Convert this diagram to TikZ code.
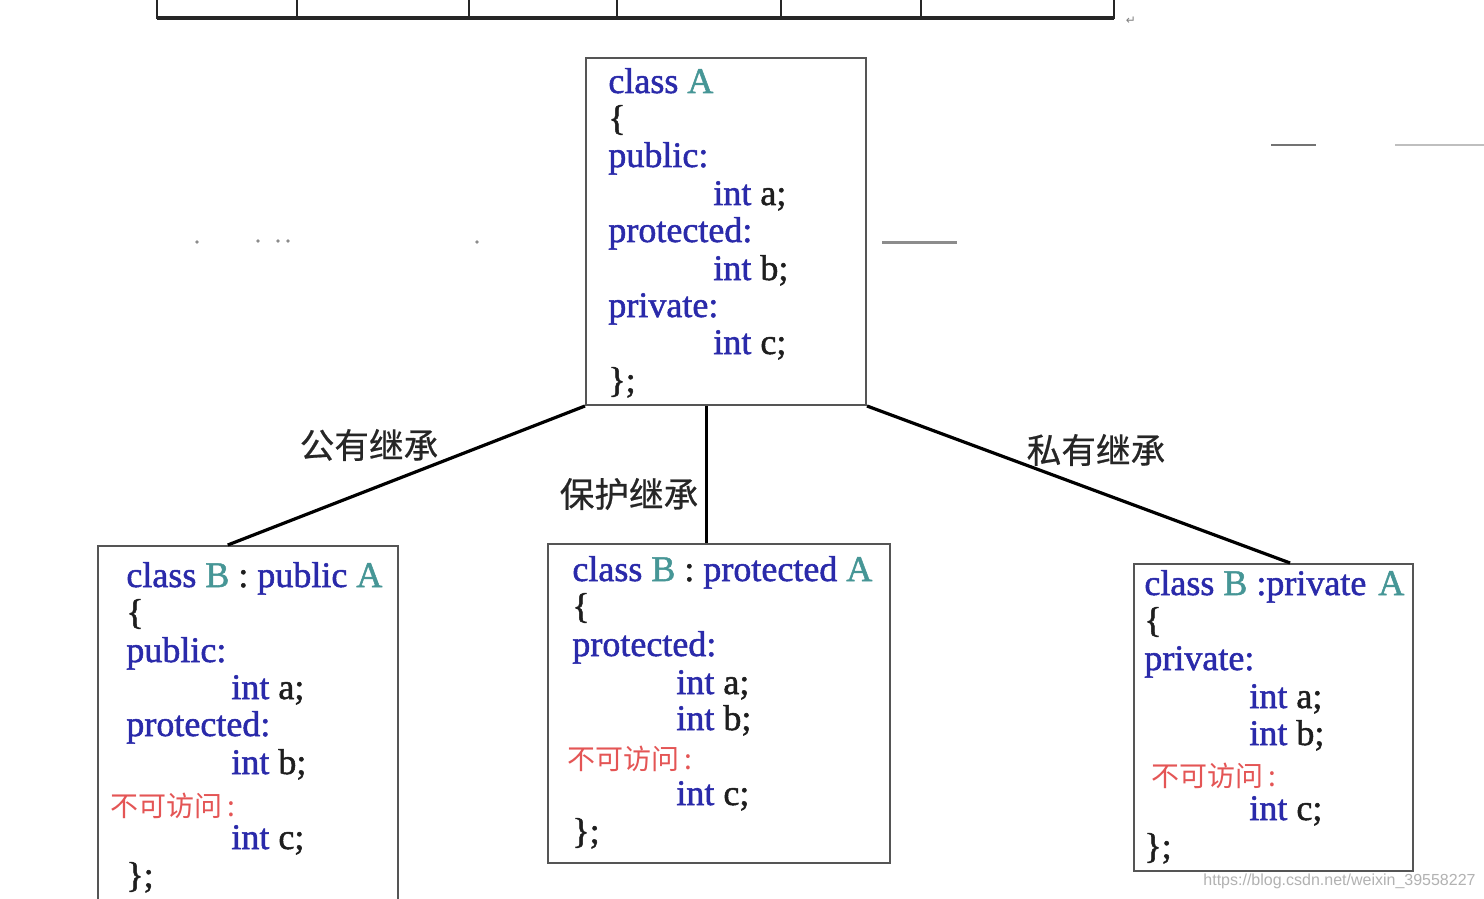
\documentclass[tikz,border=0pt]{standalone}
\usepackage{fontspec}
\setmainfont{Liberation Serif}
\newfontfamily\codefont{Liberation Serif}[FakeBold=1.4]
\newfontfamily\cjk{Noto Sans CJK SC}
\newfontfamily\cjklbl{Noto Sans CJK SC}[FakeBold=0.6]
\newfontfamily\wmfont{Liberation Sans}
\newfontfamily\symfont{DejaVu Sans}
\usetikzlibrary{calc}
\definecolor{kw}{RGB}{42,42,170}
\definecolor{cls}{RGB}{70,150,150}
\definecolor{blk}{RGB}{30,30,30}
\definecolor{redtxt}{RGB}{228,85,85}
\definecolor{boxgray}{RGB}{85,85,85}
\newcommand{\kwd}[1]{\textcolor{kw}{#1}}
\newcommand{\cln}[1]{\textcolor{cls}{#1}}
\begin{document}
\begin{tikzpicture}[x=0.5pt,y=-0.5pt,
  codeline/.style={anchor=base west,inner sep=0pt,font=\codefont\fontsize{18pt}{20pt}\selectfont,text=blk},
  redline/.style={anchor=base west,inner sep=0pt,font=\cjk\fontsize{14pt}{16pt}\selectfont,text=redtxt},
  classbox/.style={draw=boxgray,line width=1pt,fill=none,inner sep=0pt},
  conn/.style={draw=black,line width=1.6pt},
  lbl/.style={inner sep=0pt,font=\cjklbl\fontsize{17.3pt}{19pt}\selectfont,text=black!85},
  tbl/.style={draw=black!85,line width=1.3pt},
  smudge/.style={draw=black!45,line width=1.5pt}]
\clip (0,0) rectangle (1484,899);
\fill[white] (0,0) rectangle (1484,899);
% partial table at top
\draw[tbl] (157,-5) -- (157,18) -- (1114,18) -- (1114,-5);
\draw[tbl,line width=1.6pt] (157,18) -- (1114,18);
\foreach \xx in {297,469,617,781,921} \draw[tbl,line width=1pt] (\xx,-5) -- (\xx,18);
\node[inner sep=0pt,font=\symfont\fontsize{6pt}{7pt}\selectfont,text=black!50] (ret) at (1131,21) {↵};
% faint artifacts
\draw[smudge] (882,242) -- (957,242);
\draw[draw=black!25,line width=1pt] (1395,145) -- (1484,145);
\draw[draw=black!55,line width=1.2pt] (1271,145) -- (1316,145);
\foreach \xx/\yy in {197/242,258/241,278/241,288/241,477/242} \fill[black!45] (\xx,\yy) circle (1.8);
% boxes
\node[classbox,minimum width=140pt,minimum height=173.5pt] (A) at (726,231.5) {};
\node[classbox,minimum width=150pt,minimum height=187pt] (B1) at (248,733) {};
\node[classbox,minimum width=171pt,minimum height=159.5pt] (B2) at (719,703.5) {};
\node[classbox,minimum width=139.5pt,minimum height=153.5pt] (B3) at (1273.5,717.5) {};
% connectors
\coordinate (Amid) at ($(A.south west)!0.43!(A.south east)$);
\draw[conn] (A.south west) -- ($(B1.north west)!0.433!(B1.north east)$);
\draw[conn] (Amid) -- (Amid |- B2.north);
\draw[conn] (A.south east) -- ($(B3.north west)!0.559!(B3.north east)$);
% labels
\node[lbl] (l1) at (369,445) {公有继承};
\node[lbl] (l2) at (629,494) {保护继承};
\node[lbl] (l3) at (1096,450) {私有继承};
% class A
\node[codeline] (a1) at (608,93) {\kwd{class} \cln{A}};
\node[codeline] (a2) at (608,130) {\{};
\node[codeline] (a3) at (608,167) {\kwd{public:}};
\node[codeline] (a4) at (713,205) {\kwd{int} a;};
\node[codeline] (a5) at (608,242) {\kwd{protected:}};
\node[codeline] (a6) at (713,280) {\kwd{int} b;};
\node[codeline] (a7) at (608,317) {\kwd{private:}};
\node[codeline] (a8) at (713,354) {\kwd{int} c;};
\node[codeline] (a9) at (608,392) {\};};
% class B public
\node[codeline] (b1) at (126,587) {\kwd{class} \cln{B} : \kwd{public} \cln{A}};
\node[codeline] (b2) at (126,624) {\{};
\node[codeline] (b3) at (126,662) {\kwd{public:}};
\node[codeline] (b4) at (231,699) {\kwd{int} a;};
\node[codeline] (b5) at (126,736) {\kwd{protected:}};
\node[codeline] (b6) at (231,774) {\kwd{int} b;};
\node[redline] (b7) at (110,816) {不可访问\,:};
\node[codeline] (b8) at (231,849) {\kwd{int} c;};
\node[codeline] (b9) at (126,887) {\};};
% class B protected
\node[codeline] (c1) at (572,581) {\kwd{class} \cln{B} : \kwd{protected} \cln{A}};
\node[codeline] (c2) at (572,618) {\{};
\node[codeline] (c3) at (572,656) {\kwd{protected:}};
\node[codeline] (c4) at (676,694) {\kwd{int} a;};
\node[codeline] (c5) at (676,730) {\kwd{int} b;};
\node[redline] (c6) at (567,769) {不可访问\,:};
\node[codeline] (c7) at (676,805) {\kwd{int} c;};
\node[codeline] (c8) at (572,843) {\};};
% class B private
\node[codeline] (d1) at (1144,595) {\kwd{class} \cln{B} \kwd{:private}\hspace{6pt}\cln{A}};
\node[codeline] (d2) at (1144,632) {\{};
\node[codeline] (d3) at (1144,670) {\kwd{private:}};
\node[codeline] (d4) at (1249,708) {\kwd{int} a;};
\node[codeline] (d5) at (1249,745) {\kwd{int} b;};
\node[redline] (d6) at (1151,786) {不可访问\,:};
\node[codeline] (d7) at (1249,820) {\kwd{int} c;};
\node[codeline] (d8) at (1144,858) {\};};
% watermark
\node[anchor=east,inner sep=0pt,font=\wmfont\fontsize{8pt}{9pt}\selectfont,text=black!30] (wm) at (1476,881) {https://blog.csdn.net/weixin\_39558227};
\end{tikzpicture}
\end{document}
